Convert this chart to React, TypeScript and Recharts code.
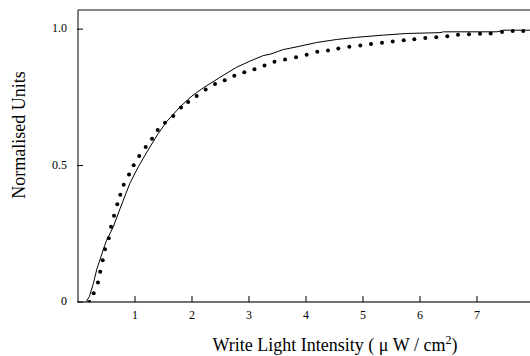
import React from "react";
import {
  ComposedChart,
  Line,
  Scatter,
  XAxis,
  YAxis,
  ReferenceLine,
  Label,
} from "recharts";

// measured response (dots)
const dotX = [
  0.2, 0.275, 0.35, 0.39, 0.433, 0.474, 0.539, 0.579, 0.632, 0.689, 0.742, 0.802,
  0.895, 0.977, 1.075, 1.188, 1.298, 1.398, 1.526, 1.672, 1.807, 1.933, 2.082,
  2.24, 2.404, 2.574, 2.742, 2.918, 3.096, 3.272, 3.447, 3.632, 3.825, 4.012,
  4.198, 4.386, 4.567, 4.76, 4.953, 5.14, 5.333, 5.521, 5.714, 5.9, 6.093, 6.286,
  6.479, 6.667, 6.86, 7.053, 7.24, 7.439, 7.626, 7.812,
];
const dotY = [
  0.0, 0.032, 0.071, 0.111, 0.153, 0.193, 0.234, 0.276, 0.316, 0.358, 0.393, 0.43,
  0.467, 0.501, 0.535, 0.568, 0.598, 0.63, 0.657, 0.682, 0.713, 0.733, 0.755,
  0.779, 0.799, 0.813, 0.829, 0.842, 0.853, 0.867, 0.88, 0.889, 0.897, 0.906,
  0.917, 0.922, 0.929, 0.935, 0.94, 0.945, 0.95, 0.955, 0.959, 0.963, 0.967, 0.97,
  0.974, 0.979, 0.981, 0.983, 0.984, 0.989, 0.993, 0.993,
];

// model curve (solid line)
const lineX = [
  0.14, 0.2, 0.27, 0.33, 0.44, 0.5, 0.62, 0.74, 0.91, 1.06, 1.23, 1.4, 1.56, 1.79,
  2.0, 2.2, 2.49, 2.78, 3.02, 3.25, 3.37, 3.6, 3.84, 4.19, 4.54, 4.89, 5.36, 5.77,
  6.35, 6.41, 7.35, 7.46, 7.93,
];
const lineY = [
  0, 0.02, 0.068, 0.12, 0.19, 0.225, 0.276, 0.343, 0.435, 0.496, 0.557, 0.615,
  0.662, 0.715, 0.755, 0.785, 0.823, 0.86, 0.883, 0.903, 0.908, 0.925, 0.935,
  0.951, 0.962, 0.97, 0.978, 0.984, 0.987, 0.99, 0.99, 0.996, 0.996,
];

const xTicks = [1, 2, 3, 4, 5, 6, 7];
const yTicks = [0, 0.5, 1.0];

const X_MAX = 7.93;
const Y_MAX = 1.07;
const FONT = "'Liberation Serif', 'DejaVu Serif', serif";

const dots = dotX.map((x, i) => ({ x, y: dotY[i] }));
const curve = lineX.map((x, i) => ({ x, y: lineY[i] }));

function XTick(props: any) {
  const { x, y, payload } = props;
  const axisY = y - 8;
  return (
    <g>
      <line x1={x} x2={x} y1={axisY - 6} y2={axisY} stroke="#000" />
      <text x={x} y={axisY + 17} textAnchor="middle" fontSize={12} fontFamily={FONT} fill="#000">
        {payload.value}
      </text>
    </g>
  );
}

function YTick(props: any) {
  const { x, y, payload } = props;
  const axisX = x + 11;
  const v = payload.value;
  return (
    <g>
      <line x1={axisX - 1} x2={axisX + 5} y1={y} y2={y} stroke="#000" />
      <text x={x} y={y + 3} textAnchor="end" fontSize={12} fontFamily={FONT} fill="#000">
        {v === 0 ? "0" : v.toFixed(1)}
      </text>
    </g>
  );
}

const Dot = (props: any) => <circle cx={props.cx} cy={props.cy} r={2} fill="#000" />;

export default function App() {
  return (
    <div style={{ position: "absolute", left: 0, top: 0, background: "#fff" }}>
      <ComposedChart width={530} height={356} margin={{ top: 10, right: 0, bottom: 0, left: 0 }}>
        <XAxis
          type="number"
          dataKey="x"
          domain={[0, X_MAX]}
          ticks={xTicks}
          allowDataOverflow
          height={54}
          tickSize={0}
          tickMargin={8}
          tick={<XTick />}
          axisLine={{ stroke: "#444", strokeWidth: 1.5 }}
        >
          <Label
            content={() => (
              <text x={335} y={351} textAnchor="middle" fontSize={18} fontFamily={FONT} fill="#000">
                Write Light Intensity ( μ W / cm
                <tspan dy={-7} fontSize={12}>2</tspan>
                <tspan dy={7}>)</tspan>
              </text>
            )}
          />
        </XAxis>
        <YAxis
          type="number"
          domain={[0, Y_MAX]}
          ticks={yTicks}
          allowDataOverflow
          width={78}
          tickSize={0}
          tickMargin={11}
          tick={<YTick />}
          axisLine={{ stroke: "#000", strokeWidth: 1 }}
        >
          <Label
            content={() => (
              <text
                x={19}
                y={135}
                transform="rotate(-90 19 135)"
                textAnchor="middle"
                dominantBaseline="central"
                fontSize={18}
                fontFamily={FONT}
                fill="#000"
              >
                Normalised Units
              </text>
            )}
          />
        </YAxis>
        <ReferenceLine y={Y_MAX} stroke="#888" strokeWidth={2} />
        <Line
          data={curve}
          dataKey="y"
          type="linear"
          stroke="#000"
          strokeWidth={1}
          dot={false}
          activeDot={false}
          isAnimationActive={false}
        />
        <Scatter data={dots} dataKey="y" fill="#000" shape={<Dot />} isAnimationActive={false} />
      </ComposedChart>
    </div>
  );
}
